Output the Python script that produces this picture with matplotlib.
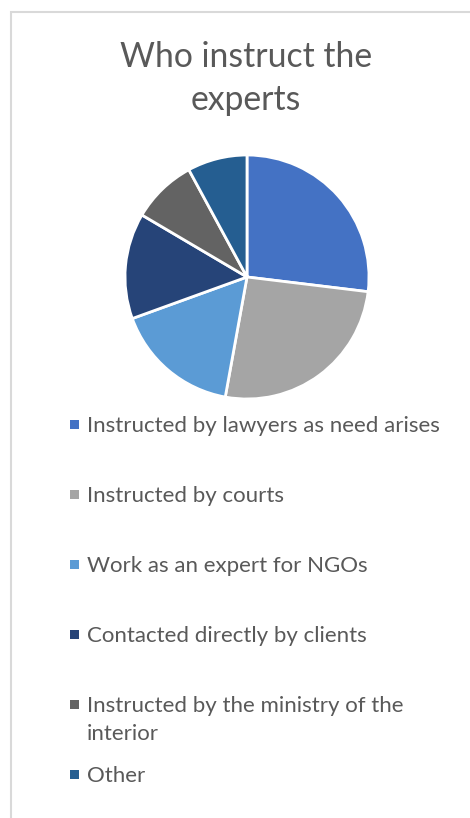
import matplotlib
matplotlib.use("Agg")
import matplotlib.pyplot as plt
from matplotlib.patches import Rectangle

# data (percent shares)
labels = [
    "Instructed by lawyers as need arises",
    "Instructed by courts",
    "Work as an expert for NGOs",
    "Contacted directly by clients",
    "Instructed by the ministry of the\ninterior",
    "Other",
]
shares = [26.9, 25.9, 16.6, 14.0, 8.6, 7.9]
colors = ["#4472C4", "#A5A5A5", "#5B9BD5", "#264478", "#636363", "#255E91"]

W, H = 470, 818
plt.rcParams["font.family"] = ["Lato", "DejaVu Sans"]
txt_color = "#595959"

fig = plt.figure(figsize=(W / 100, H / 100), dpi=100)

# chart frame (cropped on the right and bottom)
fig.patches.append(Rectangle((11 / W, -0.1), 1.2, 1 - 12 / H + 0.1,
                             transform=fig.transFigure, fill=False,
                             edgecolor="#D9D9D9", linewidth=1.5))

fig.text(246 / W, 1 - 57 / H, "Who instruct the", ha="center", va="center",
         fontsize=24.3, color=txt_color)
fig.text(246 / W, 1 - 100 / H, "experts", ha="center", va="center",
         fontsize=24.3, color=txt_color)

# pie
cx, cy, r = 247, 277, 122
ax = fig.add_axes([(cx - r) / W, (H - cy - r) / H, 2 * r / W, 2 * r / H])
ax.pie(shares, colors=colors, startangle=90, counterclock=False, radius=1,
       wedgeprops=dict(edgecolor="white", linewidth=2))
ax.set_xlim(-1, 1)
ax.set_ylim(-1, 1)
ax.set_aspect("equal")
ax.axis("off")

# legend, one row every 70 px, wrapped lines 28.4 px apart
for i, (lab, col) in enumerate(zip(labels, colors)):
    base = 431.7 + 70 * i
    fig.patches.append(Rectangle((70 / W, 1 - (base - 3) / H), 9 / W, 9 / H,
                                 transform=fig.transFigure, facecolor=col,
                                 edgecolor="none"))
    for j, line in enumerate(lab.split("\n")):
        fig.text(87 / W, 1 - (base + 28.4 * j) / H, line, ha="left",
                 va="baseline", fontsize=16, color=txt_color)

fig.savefig("out.png", dpi=100)
